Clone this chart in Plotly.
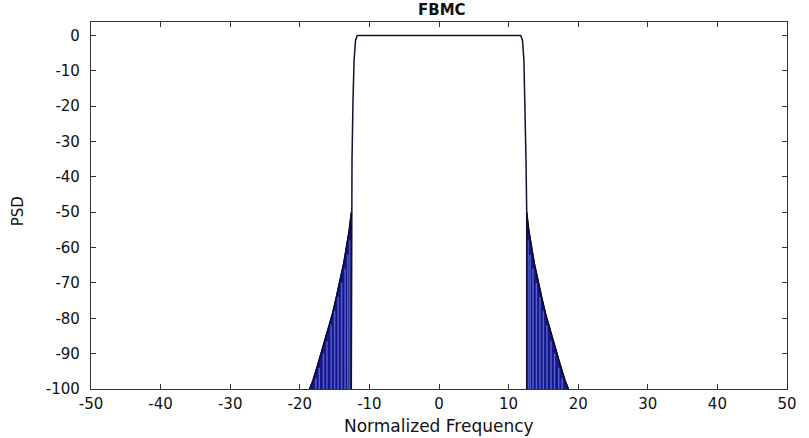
import plotly.graph_objects as go

# Passband edge of the FBMC spectrum (normalized frequency, PSD in dB)
band_freq = [-12.6, -12.6, -12.5, -12.35, -12.2, -12.0, -11.75,
             11.75, 12.0, 12.2, 12.35, 12.5, 12.6, 12.6]
band_psd = [-100, -50, -35, -18, -7, -1.5, 0,
            0, -1.5, -7, -18, -35, -50, -100]

# Out-of-band leakage envelope (left side; spectrum is symmetric)
tail_freq = [-18.6, -18.1, -17.4, -16.7, -16.0, -15.3, -14.7, -14.2, -13.7, -13.3, -12.9, -12.6, -12.6]
tail_psd = [-100, -97.5, -93.0, -88.0, -83.5, -78.6, -73.5, -69.2, -64.5, -59.8, -55.0, -50.0, -100]

# Individual subcarrier leakage lines inside the envelope
sub_freq = [-17.7, -17.2, -16.6, -16.1, -15.5, -15.0, -14.5, -14.0, -13.5, -13.1, -12.8]
sub_top = [-97, -94, -90, -86.5, -82, -78, -74, -70, -66, -62, -58]

# Axis ticks
x_ticks = list(range(-50, 51, 10))
y_ticks = list(range(-100, 1, 10))

fill_col = "#17178c"
stripe_col = "#5562c9"
line_col = "#0a0a30"
font_fam = "DejaVu Sans, Liberation Sans, Arial"

fig = go.Figure()

for sgn in (1, -1):
    tf = [sgn * f for f in tail_freq]
    fig.add_trace(go.Scatter(
        x=tf, y=tail_psd, mode="lines", fill="toself",
        fillcolor=fill_col, line=dict(color=line_col, width=1.3),
        hoverinfo="skip", showlegend=False))
    xs, ys = [], []
    for f, t in zip(sub_freq, sub_top):
        xs += [sgn * f, sgn * f, None]
        ys += [-100, t, None]
    fig.add_trace(go.Scatter(
        x=xs, y=ys, mode="lines", line=dict(color=stripe_col, width=1.4),
        hoverinfo="skip", showlegend=False))
    fig.add_trace(go.Scatter(
        x=tf, y=tail_psd, mode="lines", line=dict(color=line_col, width=1.3),
        hoverinfo="skip", showlegend=False))

fig.add_trace(go.Scatter(
    x=band_freq, y=band_psd, mode="lines",
    line=dict(color="#101030", width=1.5),
    hoverinfo="skip", showlegend=False))

axis_common = dict(
    showgrid=False, zeroline=False, showline=True, linecolor="#333333",
    linewidth=1.2, mirror="ticks", ticks="inside", ticklen=5,
    tickcolor="#333333", tickfont=dict(family=font_fam, size=15, color="#111111"),
)

fig.update_layout(
    width=809, height=438,
    margin=dict(l=91, r=14, t=22, b=49),
    paper_bgcolor="white", plot_bgcolor="white",
    xaxis=dict(range=[-50, 50], tickvals=x_ticks, ticktext=[str(v) for v in x_ticks],
               ticklabelstandoff=1, **axis_common),
    yaxis=dict(range=[-100, 3.8], tickvals=y_ticks, ticktext=[str(v) for v in y_ticks],
               ticklabelstandoff=7, **axis_common),
    annotations=[
        dict(text="<b>FBMC</b>", x=0.504, y=1.032, xref="paper", yref="paper",
             xanchor="center", yanchor="middle", showarrow=False,
             font=dict(family=font_fam, size=15, color="#111111")),
        dict(text="Normalized Frequency", x=0.5, y=-0.102, xref="paper", yref="paper",
             xanchor="center", yanchor="middle", showarrow=False,
             font=dict(family=font_fam, size=17, color="#111111")),
        dict(text="PSD", x=-0.1044, y=0.485, xref="paper", yref="paper", textangle=-90,
             xanchor="center", yanchor="middle", showarrow=False,
             font=dict(family=font_fam, size=15, color="#111111")),
    ],
)

fig.write_html("out.html")
